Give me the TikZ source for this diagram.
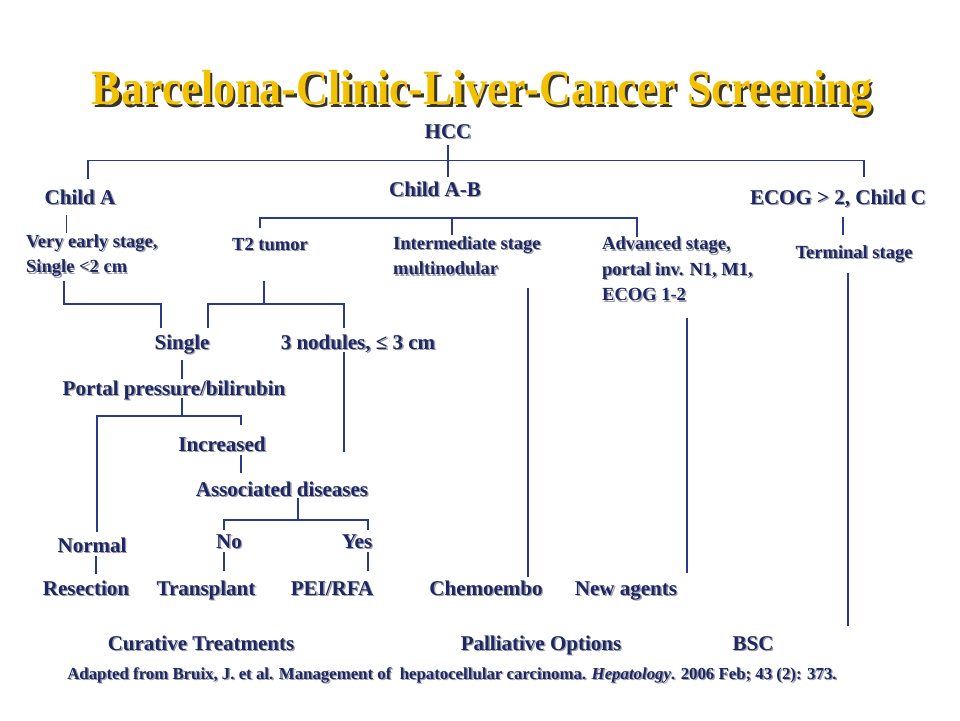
\documentclass[tikz,border=0pt]{standalone}
\usepackage{fontspec}
\setmainfont{Liberation Serif}
\definecolor{navy}{HTML}{1C2763}
\definecolor{lncol}{HTML}{2A3A8C}
\definecolor{shdcol}{HTML}{9C9CAA}
\definecolor{gold}{HTML}{F2C200}
\definecolor{tshdcol}{HTML}{3A3428}
\newcommand\shtx[1]{\makebox[0pt][l]{\hspace{1.4pt}\raisebox{-1.4pt}{\color{shdcol}#1}}#1}
\newcommand\shtitle[1]{\makebox[0pt][l]{\hspace{2.6pt}\raisebox{-2.6pt}{\color{tshdcol}#1}}#1}
\begin{document}
\begin{tikzpicture}[x=1pt,y=-1pt,
  lbl/.style={inner sep=0pt, text=navy, font=\fontsize{21}{26}\selectfont\bfseries, text height=14pt, text depth=0pt},
  sml/.style={inner sep=0pt, text=navy, font=\fontsize{18.5}{25.5}\selectfont\bfseries, align=left},
  ln/.style={draw=lncol, line width=1.3pt}]
\useasboundingbox[fill=white] (0,0) rectangle (960,720);

% title
\node[inner sep=0pt, text=gold, font=\fontsize{44}{50}\selectfont\bfseries] (title) at (482,94)
  {\scalebox{1}[1.12]{\shtitle{Barcelona-Clinic-Liver-Cancer Screening}}};

% level nodes
\node[lbl] (hcc) at (448,131) {\shtx{HCC}};
\node[lbl] (childA) at (80,197) {\shtx{Child A}};
\node[lbl] (childAB) at (435,189) {\shtx{Child A-B}};
\node[lbl] (ecog) at (838,197) {\shtx{ECOG > 2, Child C}};

\node[sml, anchor=west] (vearly) at (26,256.5) {\shtx{Very early stage,}\\\shtx{Single <2 cm}};
\node[sml, anchor=west, text height=13pt, text depth=0pt] (t2) at (232,244) {\shtx{T2 tumor}};
\node[sml, anchor=west] (inter) at (393,256.5) {\shtx{Intermediate stage}\\\shtx{multinodular}};
\node[sml, anchor=west] (adv) at (602,269.5) {\shtx{Advanced stage,}\\\shtx{portal inv. N1, M1,}\\\shtx{ECOG 1-2}};
\node[sml, text height=13pt, text depth=0pt] (term) at (854,252) {\shtx{Terminal stage}};

\node[lbl] (single) at (182,342) {\shtx{Single}};
\node[lbl] (nod3) at (358,342) {\shtx{3 nodules, ≤ 3 cm}};
\node[lbl] (portal) at (174,388) {\shtx{Portal pressure/bilirubin}};
\node[lbl] (incr) at (222,444) {\shtx{Increased}};
\node[lbl] (assoc) at (282,489) {\shtx{Associated diseases}};
\node[lbl] (normal) at (92,545) {\shtx{Normal}};
\node[lbl] (no) at (229,541) {\shtx{No}};
\node[lbl] (yes) at (357,541) {\shtx{Yes}};

\node[lbl] (resect) at (86,588) {\shtx{Resection}};
\node[lbl] (transp) at (206,588) {\shtx{Transplant}};
\node[lbl] (pei) at (332,588) {\shtx{PEI/RFA}};
\node[lbl] (chemo) at (486,588) {\shtx{Chemoembo}};
\node[lbl] (newag) at (626,588) {\shtx{New agents}};

\node[lbl] (cur) at (201,643) {\shtx{Curative Treatments}};
\node[lbl] (pal) at (541,643) {\shtx{Palliative Options}};
\node[lbl] (bsc) at (753,643) {\shtx{BSC}};

\node[inner sep=0pt, text=navy, font=\fontsize{16.8}{19}\selectfont\bfseries] (cite) at (452,676)
  {\shtx{Adapted from Bruix, J. et al. Management of\ \ hepatocellular carcinoma. \textit{Hepatology}. 2006 Feb; 43 (2): 373.}};

% connector end points
\coordinate (hccS) at (448,145);
\coordinate (abN) at (448,177);
\coordinate (aN) at (88,179);
\coordinate (topbar) at (448,160.5);
\coordinate (eN) at (864,177);
\coordinate (aS) at (66.7,215);
\coordinate (veN) at (66.7,233);
\coordinate (eS) at (843,217);
\coordinate (teN) at (843,235);
\coordinate (t2N) at (260,228);
\coordinate (abbar) at (452,218);
\coordinate (advN) at (637,237);
\coordinate (inN) at (452,235);
\coordinate (veS) at (64,281);
\coordinate (vebar) at (112,304);
\coordinate (sgN1) at (161,328);
\coordinate (t2S) at (264,281);
\coordinate (t2bar) at (264,304);
\coordinate (sgN2) at (208,328);
\coordinate (n3N) at (344,328);
\coordinate (n3S) at (344,352);
\coordinate (n3E) at (344,452);
\coordinate (sgS) at (182,360);
\coordinate (ppN) at (182,379);
\coordinate (ppS) at (182,398);
\coordinate (ppbar) at (182,416);
\coordinate (nmN) at (97,532);
\coordinate (incN) at (241,425);
\coordinate (incS) at (241,455);
\coordinate (asN) at (241,473);
\coordinate (asS) at (298,498);
\coordinate (asbar) at (298,520);
\coordinate (noN) at (224,530);
\coordinate (yesN) at (368,530);
\coordinate (nmS) at (96,556);
\coordinate (reN) at (96,574);
\coordinate (noS) at (224,552);
\coordinate (trN) at (224,571);
\coordinate (yesS) at (368,552);
\coordinate (peN) at (368,571);
\coordinate (inS) at (528,288);
\coordinate (chN) at (528,577);
\coordinate (adS) at (687,318);
\coordinate (nwN) at (687,573);
\coordinate (teS) at (848,273);
\coordinate (bscE) at (848,626);

% connectors
\draw[ln] (hccS) -- (abN);
\draw[ln] (aN) |- (topbar) -| (eN);
\draw[ln] (aS) -- (veN);
\draw[ln] (eS) -- (teN);
\draw[ln] (t2N) |- (abbar) -| (advN);
\draw[ln] (abbar) -- (inN);
\draw[ln] (veS) |- (vebar) -| (sgN1);
\draw[ln] (t2S) -- (t2bar);
\draw[ln] (sgN2) |- (t2bar) -| (n3N);
\draw[ln] (n3S) -- (n3E);
\draw[ln] (sgS) -- (ppN);
\draw[ln] (ppS) -- (ppbar);
\draw[ln] (nmN) |- (ppbar) -| (incN);
\draw[ln] (incS) -- (asN);
\draw[ln] (asS) -- (asbar);
\draw[ln] (noN) |- (asbar) -| (yesN);
\draw[ln] (nmS) -- (reN);
\draw[ln] (noS) -- (trN);
\draw[ln] (yesS) -- (peN);
\draw[ln] (inS) -- (chN);
\draw[ln] (adS) -- (nwN);
\draw[ln] (teS) -- (bscE);
\end{tikzpicture}
\end{document}
